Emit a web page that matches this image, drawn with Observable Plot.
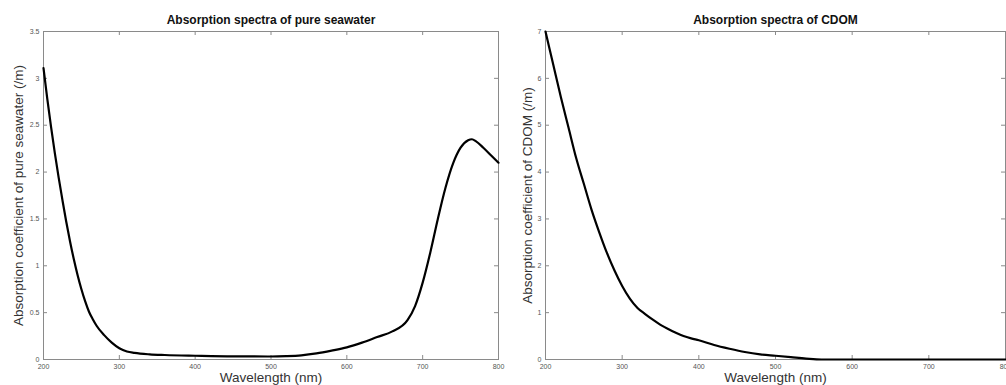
<!DOCTYPE html>
<html><head><meta charset="utf-8">
<script src="https://cdn.jsdelivr.net/npm/d3@7"></script>
<script src="https://cdn.jsdelivr.net/npm/@observablehq/plot@0.6"></script>
<style>
body{margin:0;background:#fff;}
#wrap{position:relative;width:1006px;height:385px;overflow:hidden;}
#wrap svg{position:absolute;top:0;background:transparent;max-width:none;}
</style></head><body><div id="wrap"></div>
<script>
// Pure seawater absorption
const wavelengthSeawater = [200,205,210,215,220,225,230,235,240,245,250,255,260,265,270,280,290,300,310,320,340,360,400,450,500,520,540,560,580,600,620,640,660,680,690,700,710,720,730,740,750,760,765,770,780,790,800];
const absSeawater = [3.11,2.78,2.48,2.20,1.94,1.70,1.47,1.26,1.07,0.90,0.75,0.62,0.51,0.43,0.36,0.26,0.18,0.12,0.085,0.07,0.055,0.048,0.04,0.033,0.032,0.036,0.045,0.065,0.095,0.13,0.18,0.24,0.30,0.42,0.57,0.82,1.14,1.50,1.83,2.09,2.26,2.34,2.35,2.33,2.26,2.18,2.10];

// CDOM absorption
const wavelengthCDOM = [200,210,220,230,240,250,260,270,280,290,300,310,320,330,340,350,360,370,380,390,400,420,440,460,480,500,520,540,560,600,650,700,750,800];
const absCDOM = [7.0,6.3,5.6,4.95,4.3,3.75,3.2,2.72,2.28,1.9,1.57,1.3,1.1,0.97,0.85,0.74,0.65,0.57,0.5,0.45,0.41,0.31,0.23,0.16,0.11,0.08,0.05,0.02,0.0,0.0,0.0,0.0,0.0,0.0];

const xTicks = [200,300,400,500,600,700,800];
const yTicksSeawater = [0,0.5,1,1.5,2,2.5,3,3.5];
const yTicksCDOM = [0,1,2,3,4,5,6,7];

const titleSeawater = "Absorption spectra of pure seawater";
const titleCDOM = "Absorption spectra of CDOM";
const xLabel = "Wavelength (nm)";
const yLabelSeawater = "Absorption coefficient of pure seawater (/m)";
const yLabelCDOM = "Absorption coefficient of CDOM (/m)";

const H = 385, MT = 31, MB = 26;
const FONT = "'Liberation Sans', Arial, Helvetica, sans-serif";

function panel({wl, ab, yTicks, yDomain, title, yLabel, left, width, marginLeft, marginRight, yLabelDx}) {
  const data = wl.map((w, i) => ({w, a: ab[i]}));
  const plotW = width - marginLeft - marginRight;
  const plotH = H - MT - MB;
  const tick = 4;
  const gray = "#8a8a8a";
  const svg = Plot.plot({
    width, height: H,
    marginTop: MT, marginBottom: MB, marginLeft, marginRight,
    style: {fontFamily: FONT, background: "transparent", overflow: "visible"},
    x: {domain: [200, 800]},
    y: {domain: yDomain},
    marks: [
      Plot.frame({stroke: gray, strokeWidth: 1}),
      Plot.tickX(xTicks, {x: d => d, stroke: gray, insetTop: plotH - tick}),
      Plot.tickX(xTicks, {x: d => d, stroke: gray, insetBottom: plotH - tick}),
      Plot.tickY(yTicks, {y: d => d, stroke: gray, insetRight: plotW - tick}),
      Plot.tickY(yTicks, {y: d => d, stroke: gray, insetLeft: plotW - tick}),
      Plot.axisX(xTicks, {tickSize: 0, tickPadding: 5, fontSize: 7, fill: "#555", label: null}),
      Plot.axisY(yTicks, {tickSize: 0, tickPadding: 4, fontSize: 7, fill: "#555", label: null, tickFormat: d => String(d)}),
      Plot.line(data, {x: "w", y: "a", stroke: "#000", strokeWidth: 2.2, strokeLinejoin: "round", curve: "monotone-x"}),
      Plot.text([title], {frameAnchor: "top", lineAnchor: "middle", dy: -11, fontSize: 12, fontWeight: "bold", fill: "#111"}),
      Plot.text([xLabel], {frameAnchor: "bottom", lineAnchor: "middle", textAnchor: "middle", dy: 18, fontSize: 13.5, fill: "#333"}),
      Plot.text([yLabel], {frameAnchor: "left", textAnchor: "middle", lineAnchor: "middle", dx: yLabelDx, rotate: -90, fontSize: 13.5, fill: "#333"})
    ]
  });
  svg.style.left = left + "px";
  document.getElementById("wrap").appendChild(svg);
}

panel({wl: wavelengthSeawater, ab: absSeawater, yTicks: yTicksSeawater, yDomain: [0, 3.5],
  title: titleSeawater, yLabel: yLabelSeawater, left: 0, width: 500, marginLeft: 43, marginRight: 2, yLabelDx: -25});
panel({wl: wavelengthCDOM, ab: absCDOM, yTicks: yTicksCDOM, yDomain: [0, 7],
  title: titleCDOM, yLabel: yLabelCDOM, left: 500, width: 506, marginLeft: 45, marginRight: 1, yLabelDx: -18});
</script></body></html>
